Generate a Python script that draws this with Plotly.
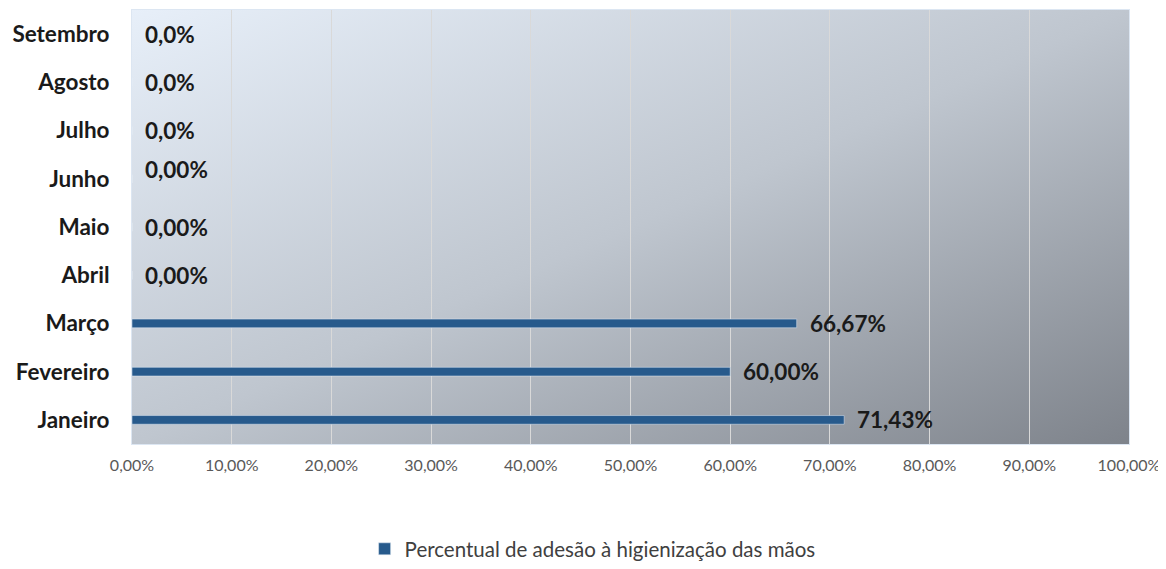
import base64
import plotly.graph_objects as go

months = ["Janeiro", "Fevereiro", "Março", "Abril", "Maio", "Junho", "Julho", "Agosto", "Setembro"]
values = [71.43, 60.00, 66.67, 0.0, 0.0, 0.0, 0.0, 0.0, 0.0]
labels = ["71,43%", "60,00%", "66,67%", "0,00%", "0,00%", "0,00%", "0,0%", "0,0%", "0,0%"]
label_yshift = [0, 0, 0, 0, 0, 9, 0, 0, 0]
tick_vals = [0, 10, 20, 30, 40, 50, 60, 70, 80, 90, 100]
tick_text = ["0,00%", "10,00%", "20,00%", "30,00%", "40,00%", "50,00%", "60,00%", "70,00%", "80,00%", "90,00%", "100,00%"]
series_name = "Percentual de adesão à higienização das mãos"

svg = (
    '<svg xmlns="http://www.w3.org/2000/svg" width="1000" height="435" preserveAspectRatio="none">'
    '<defs><linearGradient id="g" x1="0" y1="0" x2="1" y2="1">'
    '<stop offset="0" stop-color="#E7EFF9"/>'
    '<stop offset="0.5" stop-color="#BFC6CF"/>'
    '<stop offset="1" stop-color="#7E838B"/>'
    '</linearGradient></defs>'
    '<rect width="1000" height="435" fill="url(#g)"/></svg>'
)
src = "data:image/svg+xml;base64," + base64.b64encode(svg.encode()).decode()

FONT = "Lato, sans-serif"

fig = go.Figure()
fig.add_trace(go.Bar(
    y=months, x=values, orientation="h", name=series_name,
    marker=dict(color="#275A8C"), width=0.18,
))

for m, v, t, s in zip(months, values, labels, label_yshift):
    fig.add_annotation(x=v, y=m, text="<b>%s</b>" % t, showarrow=False,
                       xanchor="left", xshift=11, yshift=s,
                       font=dict(family=FONT, size=22.5, color="#1a1a1a"))

fig.add_layout_image(dict(source=src, xref="paper", yref="paper", x=0, y=1,
                          sizex=1, sizey=1, sizing="stretch", layer="below",
                          xanchor="left", yanchor="top"))

fig.update_layout(
    width=1158, height=561,
    margin=dict(l=124, r=37, t=2, b=125),
    paper_bgcolor="white",
    plot_bgcolor="rgba(0,0,0,0)",
    showlegend=True,
    legend=dict(orientation="h", x=0.462, xanchor="center",
                yref="container", y=-0.021, yanchor="bottom",
                font=dict(family=FONT, size=20.5, color="#404040"),
                itemwidth=30, tracegroupgap=0),
    xaxis=dict(range=[0, 100], tickvals=tick_vals, ticktext=tick_text,
               showgrid=True, gridcolor="#D9D9D9", gridwidth=1, zeroline=False,
               showline=True, linecolor="#DCE6F2", mirror=True,
               ticks="", ticklabelstandoff=7,
               tickfont=dict(family=FONT, size=16, color="#595959"),
               fixedrange=True),
    yaxis=dict(categoryorder="array", categoryarray=months, showgrid=False,
               showline=True, linecolor="#DCE6F2", mirror=True,
               ticks="", ticklabelstandoff=17,
               tickfont=dict(family=FONT, size=22.5, color="#1a1a1a", weight="bold"),
               fixedrange=True),
)

fig.write_html("out.html")
